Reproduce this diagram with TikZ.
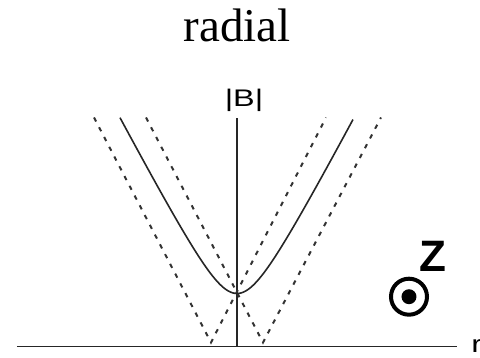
\documentclass[tikz,border=0pt]{standalone}
\usepackage{fontspec}
\setmainfont{Liberation Serif}
\newfontfamily\arialfont{Liberation Sans}
\begin{document}
\begin{tikzpicture}[x=1pt,y=1pt,
  axisline/.style={line width=1.6pt,black!85},
  curveline/.style={line width=1.6pt,black!85},
  dashline/.style={line width=2pt,black!80,dash pattern=on 4.5pt off 6.5pt},
  sanslabel/.style={font=\arialfont\fontsize{24}{24}\selectfont,inner sep=0pt,xscale=1.35}]
\useasboundingbox (-237,-10.5) rectangle (243,346.5);
% title
\node[font=\fontsize{47}{47}\selectfont,inner sep=0pt,anchor=base] (title) at (0,305) {radial};
% axes
\coordinate (hl) at (-220,0);
\coordinate (hr) at (220,0);
\coordinate (vb) at (0,0);
\coordinate (vt) at (0,228.5);
\draw[axisline] (hl) -- (hr);
\draw[axisline] (vb) -- (vt);
\node[sanslabel,anchor=base] (B) at (7,240) {|B|};
\node[sanslabel,anchor=base west] (r) at (234,-5.5) {r};
% dashed V shapes
\coordinate (v1) at (-26,4);
\coordinate (v2) at (26,4);
\coordinate (ol) at (-143,229);
\coordinate (ir) at (89,229);
\coordinate (il) at (-91,229);
\coordinate (or) at (144,229);
\draw[dashline] (ol) -- (v1) -- (ir);
\draw[dashline] (il) -- (v2) -- (or);
% solid hyperbola
\draw[curveline] plot[domain=-117:116,samples=120,smooth] (\x,{100*sqrt(0.2809+3.62*(\x/100)*(\x/100))});
% z direction
\node[font=\arialfont\bfseries\fontsize{44}{44}\selectfont,inner sep=0pt,anchor=base] (z) at (195.5,74.8) {Z};
\node[circle,draw,line width=4pt,minimum size=36pt,inner sep=0pt] (ring) at (172,49.8) {};
\fill (ring.center) circle (7.5);
\end{tikzpicture}
\end{document}
